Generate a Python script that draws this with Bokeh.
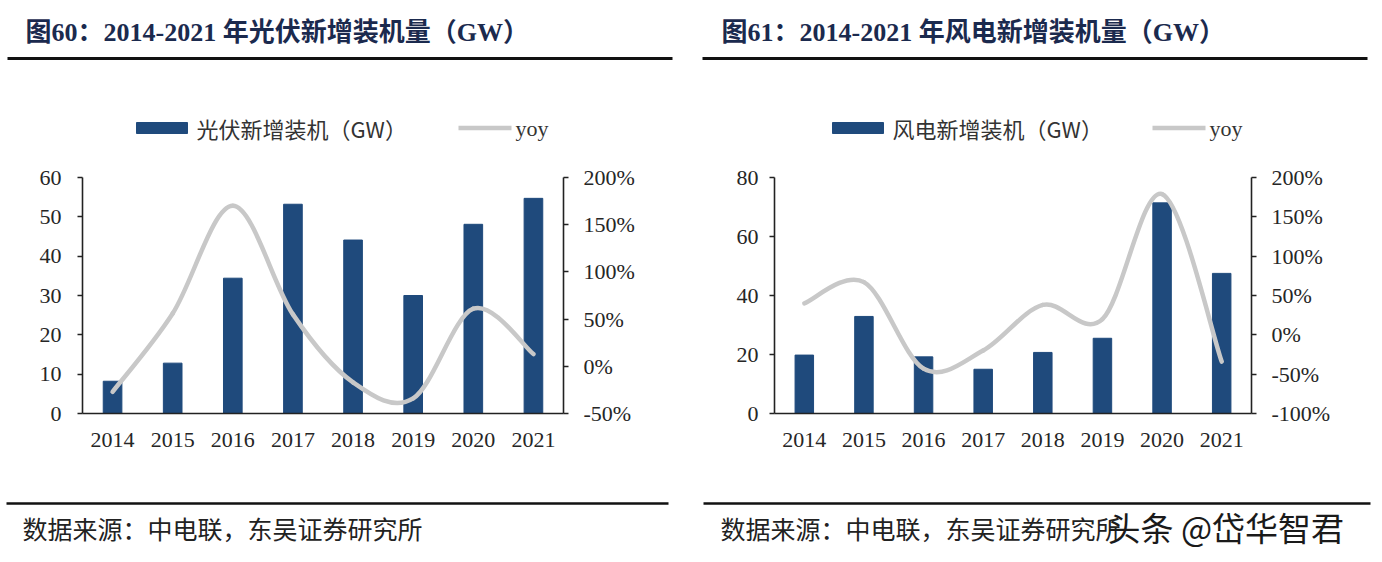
from bokeh.plotting import figure
from bokeh.models import (Range1d, LinearAxis, FixedTicker, PrintfTickFormatter,
                          ColumnDataSource)
from bokeh.core.properties import value
from bokeh.layouts import row, column
from bokeh.embed import file_html
from bokeh.resources import INLINE

# ---------------- data ----------------
years = ["2014", "2015", "2016", "2017", "2018", "2019", "2020", "2021"]

pv_gw = [8.2, 12.8, 34.4, 53.2, 44.1, 30.0, 48.1, 54.7]
pv_yoy = [-27, 56, 170, 55, -17, -34, 61, 13]

wind_gw = [19.8, 32.9, 19.2, 15.0, 20.7, 25.5, 71.4, 47.5]
wind_yoy = [40, 67, -43, -20, 38, 20, 179, -34]

titles = ["图60：2014-2021 年光伏新增装机量（GW）",
          "图61：2014-2021 年风电新增装机量（GW）"]
legend_names = ["光伏新增装机（GW）", "风电新增装机（GW）"]
yoy_name = "yoy"
source_text = "数据来源：中电联，东吴证券研究所"
watermark = "头条 @岱华智君"

pv_left_ticks = [0, 10, 20, 30, 40, 50, 60]
pv_right_ticks = [-50, 0, 50, 100, 150, 200]
wind_left_ticks = [0, 20, 40, 60, 80]
wind_right_ticks = [-100, -50, 0, 50, 100, 150, 200]

BAR = "#1f4a7c"
LINE = "#c8c8c8"
TXT = "#262626"
TITLE = "#1b2a4e"
SERIF = "Liberation Serif"
MIX = "Liberation Serif, Noto Sans CJK SC"
CJK = "Noto Sans CJK SC"

W = 690          # width of one panel
HH = 157         # header height
CH = 306         # chart height
FH_TOP = 20      # space above the plot frame
FRAME_H = 236
FTH = 90         # footer height


def smooth_bezier(xs, ys):
    n = len(ys)
    out = dict(x0=[], y0=[], x1=[], y1=[], cx0=[], cy0=[], cx1=[], cy1=[])
    for i in range(n - 1):
        i0 = max(i - 1, 0)
        i3 = min(i + 2, n - 1)
        out["x0"].append(xs[i]); out["y0"].append(ys[i])
        out["x1"].append(xs[i + 1]); out["y1"].append(ys[i + 1])
        out["cx0"].append(xs[i] + (xs[i + 1] - xs[i0]) / 6.0)
        out["cy0"].append(ys[i] + (ys[i + 1] - ys[i0]) / 6.0)
        out["cx1"].append(xs[i + 1] - (xs[i3] - xs[i]) / 6.0)
        out["cy1"].append(ys[i + 1] - (ys[i3] - ys[i]) / 6.0)
    return out


def blank(width, height):
    p = figure(width=width, height=height, x_range=Range1d(0, width),
               y_range=Range1d(height, 0), min_border=0,
               x_axis_location=None, y_axis_location=None,
               output_backend="svg", toolbar_location=None,
               background_fill_color="white", border_fill_color="white")
    p.outline_line_color = None
    p.xgrid.visible = False
    p.ygrid.visible = False
    return p


def style_axis(ax, stand, ticks_out=5):
    ax.axis_line_color = "#222222"
    ax.axis_line_width = 1.6
    ax.major_tick_out = ticks_out
    ax.major_tick_in = 0
    ax.major_tick_line_color = "#222222" if ticks_out else None
    ax.major_tick_line_width = 1.6
    ax.minor_tick_line_color = None
    ax.major_label_text_font = SERIF
    ax.major_label_text_font_size = "22px"
    ax.major_label_text_color = TXT
    ax.major_label_standoff = stand


def chart(gw, yoy, ymax, left_ticks, rmin, right_ticks, left, fw, lstand, rstand):
    n = len(years)
    xs = [i + 0.5 for i in range(n)]
    p = figure(x_range=Range1d(0, n), y_range=Range1d(0, ymax),
               frame_width=fw, frame_height=FRAME_H,
               min_border_left=left, min_border_right=W - left - fw,
               min_border_top=FH_TOP, min_border_bottom=CH - FH_TOP - FRAME_H,
               output_backend="svg", toolbar_location=None,
               background_fill_color="white", border_fill_color="white")
    p.outline_line_color = None
    p.xgrid.visible = False
    p.ygrid.visible = False
    p.extra_y_ranges = {"yoy": Range1d(rmin, 200)}

    p.vbar(x=xs, top=gw, width=0.31, color=BAR)

    src = ColumnDataSource(smooth_bezier(xs, yoy))
    p.bezier(x0="x0", y0="y0", x1="x1", y1="y1", cx0="cx0", cy0="cy0",
             cx1="cx1", cy1="cy1", source=src, line_color=LINE,
             line_width=4.5, line_cap="round", y_range_name="yoy")

    xa = p.xaxis[0]
    xa.ticker = FixedTicker(ticks=xs)
    xa.major_label_overrides = {x: y for x, y in zip(xs, years)}
    style_axis(xa, 19, ticks_out=0)

    ya = p.yaxis[0]
    ya.ticker = FixedTicker(ticks=left_ticks)
    style_axis(ya, lstand)

    ra = LinearAxis(y_range_name="yoy", ticker=FixedTicker(ticks=right_ticks),
                    formatter=PrintfTickFormatter(format="%d%%"))
    style_axis(ra, rstand)
    p.add_layout(ra, "right")
    return p


# ---------------- header: titles, rules, legends ----------------
hdr = blank(2 * W, HH)
hdr.text(x=[25, 721], y=[32, 32], text=titles, text_font=value(MIX),
         text_font_size="26px", text_font_style="bold", text_color=TITLE,
         text_baseline="middle")
hdr.segment(x0=[7, 702], y0=[58, 58], x1=[672, 1367], y1=[58, 58],
            line_color="#111111", line_width=3)
leg_rect_x = [136, 832]
leg_line_x = [458, 1152]
hdr.quad(left=leg_rect_x, right=[x + 51 for x in leg_rect_x],
         top=[122, 122], bottom=[133, 133], color=BAR)
hdr.text(x=[x + 60 for x in leg_rect_x], y=[127.5, 127.5], text=legend_names,
         text_font=value(CJK), text_font_size="22px", text_color="#333333",
         text_baseline="middle")
hdr.segment(x0=leg_line_x, y0=[127.5, 127.5], x1=[x + 53 for x in leg_line_x],
            y1=[127.5, 127.5], line_color=LINE, line_width=4.5)
hdr.text(x=[x + 57 for x in leg_line_x], y=[127.5, 127.5],
         text=[yoy_name, yoy_name], text_font=value(SERIF),
         text_font_size="22px", text_color="#333333", text_baseline="middle")

# ---------------- charts ----------------
p1 = chart(pv_gw, pv_yoy, 60, pv_left_ticks, -50, pv_right_ticks,
           left=82, fw=481, lstand=16, rstand=15)
p2 = chart(wind_gw, wind_yoy, 80, wind_left_ticks, -100, wind_right_ticks,
           left=84, fw=477, lstand=11, rstand=15)

# ---------------- footer: rules, source, watermark ----------------
ftr = blank(2 * W, FTH)
ftr.segment(x0=[6, 703], y0=[40, 40], x1=[668, 1370], y1=[40, 40],
            line_color="#111111", line_width=2.5)
ftr.text(x=[22, 720], y=[64, 64], text=[source_text, source_text],
         text_font=value(CJK), text_font_size="25px", text_color="#222222",
         text_baseline="middle")
ftr.text(x=[1107], y=[63], text=[watermark], text_font=value(CJK),
         text_font_size="33px", text_color="#1a1a1a", text_baseline="middle")

layout = column(hdr, row(p1, p2), ftr)
open("out.html", "w").write(file_html(layout, INLINE))
